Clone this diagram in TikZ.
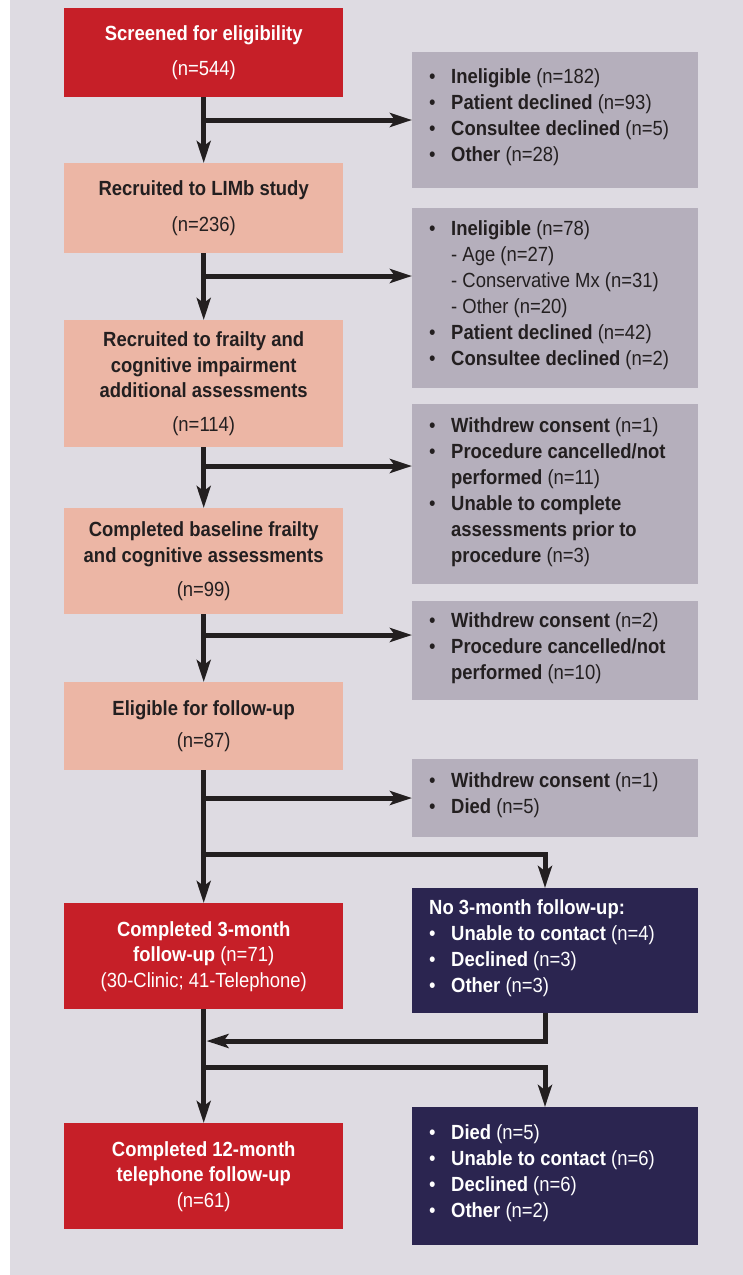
\documentclass[tikz,border=0pt]{standalone}
\usepackage{fontspec}
\setmainfont{Liberation Sans}[FakeStretch=0.9]
\usetikzlibrary{arrows.meta}
\definecolor{bg}{HTML}{DEDBE2}
\definecolor{cred}{HTML}{C61F28}
\definecolor{salmon}{HTML}{ECB6A5}
\definecolor{cgray}{HTML}{B5AFBC}
\definecolor{navy}{HTML}{2B2550}
\definecolor{ink}{HTML}{231F20}
\newcommand{\bul}{\makebox[22pt][l]{\textbullet}}
\newcommand{\ind}{\hspace*{22pt}}
\newcommand{\fstrut}{\rule{0pt}{16pt}}
\begin{document}
\begin{tikzpicture}[x=1pt,y=-1pt,
  box/.style={rectangle, inner sep=0pt, anchor=north west, minimum width=279pt,
    align=center, font=\fontsize{20.5}{25.5}\selectfont},
  mainbox/.style={box, fill=salmon, text=ink},
  redbox/.style={box, fill=cred, text=white},
  side/.style={rectangle, inner sep=0pt, anchor=north west, minimum width=286pt},
  greybox/.style={side, fill=cgray},
  navybox/.style={side, fill=navy},
  list/.style={anchor=north west, inner sep=0pt, align=left,
    font=\fontsize{20.5}{26}\selectfont},
  flow/.style={line width=5pt, draw=ink, line join=miter,
    -{Stealth[length=22pt,width=14pt,inset=5pt]}},
  link/.style={line width=5pt, draw=ink, line join=miter}
]
\useasboundingbox (0,0) rectangle (743,1275);
\fill[bg] (10,0) rectangle (743,1275);

% main column
\node[redbox, minimum height=89pt] (b1) at (64,8) {\textbf{Screened for eligibility}\\[10pt](n=544)};
\node[mainbox, minimum height=90pt] (b2) at (64,163) {\textbf{Recruited to LIMb study}\\[10pt](n=236)};
\node[mainbox, minimum height=127pt] (b3) at (64,320) {\textbf{Recruited to frailty and}\\\textbf{cognitive impairment}\\\textbf{additional assessments}\\[8pt](n=114)};
\node[mainbox, minimum height=106pt] (b4) at (64,508) {\textbf{Completed baseline frailty}\\\textbf{and cognitive assessments}\\[9pt](n=99)};
\node[mainbox, minimum height=88pt] (b5) at (64,682) {\textbf{Eligible for follow-up}\\[7pt](n=87)};
\node[redbox, minimum height=106pt] (b6) at (64,903) {\textbf{Completed 3-month}\\\textbf{follow-up} (n=71)\\(30-Clinic; 41-Telephone)};
\node[redbox, minimum height=106pt] (b7) at (64,1123) {\textbf{Completed 12-month}\\\textbf{telephone follow-up}\\(n=61)};

% side boxes
\node[greybox, minimum height=136pt] (r1) at (412,52) {};
\node[list, text=ink] (r1t) at ([xshift=17pt,yshift=-15pt]r1.north west) {\fstrut\bul\textbf{Ineligible} (n=182)\\\bul\textbf{Patient declined} (n=93)\\\bul\textbf{Consultee declined} (n=5)\\\bul\textbf{Other} (n=28)};

\node[greybox, minimum height=180pt] (r2) at (412,208) {};
\node[list, text=ink] (r2t) at ([xshift=17pt,yshift=-11.5pt]r2.north west) {\fstrut\bul\textbf{Ineligible} (n=78)\\\ind- Age (n=27)\\\ind- Conservative Mx (n=31)\\\ind- Other (n=20)\\\bul\textbf{Patient declined} (n=42)\\\bul\textbf{Consultee declined} (n=2)};

\node[greybox, minimum height=180pt] (r3) at (412,404) {};
\node[list, text=ink] (r3t) at ([xshift=17pt,yshift=-12.5pt]r3.north west) {\fstrut\bul\textbf{Withdrew consent} (n=1)\\\bul\textbf{Procedure cancelled/not}\\\ind\textbf{performed} (n=11)\\\bul\textbf{Unable to complete}\\\ind\textbf{assessments prior to}\\\ind\textbf{procedure} (n=3)};

\node[greybox, minimum height=99pt] (r4) at (412,601) {};
\node[list, text=ink] (r4t) at ([xshift=17pt,yshift=-10.5pt]r4.north west) {\fstrut\bul\textbf{Withdrew consent} (n=2)\\\bul\textbf{Procedure cancelled/not}\\\ind\textbf{performed} (n=10)};

\node[greybox, minimum height=78pt] (r5) at (412,759) {};
\node[list, text=ink] (r5t) at ([xshift=17pt,yshift=-12.5pt]r5.north west) {\fstrut\bul\textbf{Withdrew consent} (n=1)\\\bul\textbf{Died} (n=5)};

\node[navybox, minimum height=125pt] (n1) at (412,888) {};
\node[list, text=white] (n1t) at ([xshift=17pt,yshift=-10.5pt]n1.north west) {\fstrut\textbf{No 3-month follow-up:}\\\bul\textbf{Unable to contact} (n=4)\\\bul\textbf{Declined} (n=3)\\\bul\textbf{Other} (n=3)};

\node[navybox, minimum height=138pt] (n2) at (412,1107) {};
\node[list, text=white] (n2t) at ([xshift=17pt,yshift=-16.5pt]n2.north west) {\fstrut\bul\textbf{Died} (n=5)\\\bul\textbf{Unable to contact} (n=6)\\\bul\textbf{Declined} (n=6)\\\bul\textbf{Other} (n=2)};

% junction points on the spine
\coordinate (j1) at (203.5,120);
\coordinate (j2) at (203.5,276);
\coordinate (j3) at (203.5,466);
\coordinate (j4) at (203.5,635);
\coordinate (j5) at (203.5,798);
\coordinate (j6) at (203.5,854);
\coordinate (k1) at (545,854);
\coordinate (k2) at (545,1041);
\coordinate (j7) at (206.5,1041);
\coordinate (j8) at (203.5,1067);
\coordinate (k3) at (545,1067);

% spine
\draw[flow] (b1.south) -- (b2.north);
\draw[flow] (b2.south) -- (b3.north);
\draw[flow] (b3.south) -- (b4.north);
\draw[flow] (b4.south) -- (b5.north);
\draw[flow] (b5.south) -- (b6.north);
\draw[flow] (b6.south) -- (b7.north);

% exclusions
\draw[flow] (j1) -- (j1 -| r1.west);
\draw[flow] (j2) -- (j2 -| r2.west);
\draw[flow] (j3) -- (j3 -| r3.west);
\draw[flow] (j4) -- (j4 -| r4.west);
\draw[flow] (j5) -- (j5 -| r5.west);
\draw[flow] (j6) -- (k1) -- (k1 |- n1.north);
\draw[flow] (n1.south -| k2) -- (k2) -- (j7);
\draw[flow] (j8) -- (k3) -- (k3 |- n2.north);
\end{tikzpicture}
\end{document}
